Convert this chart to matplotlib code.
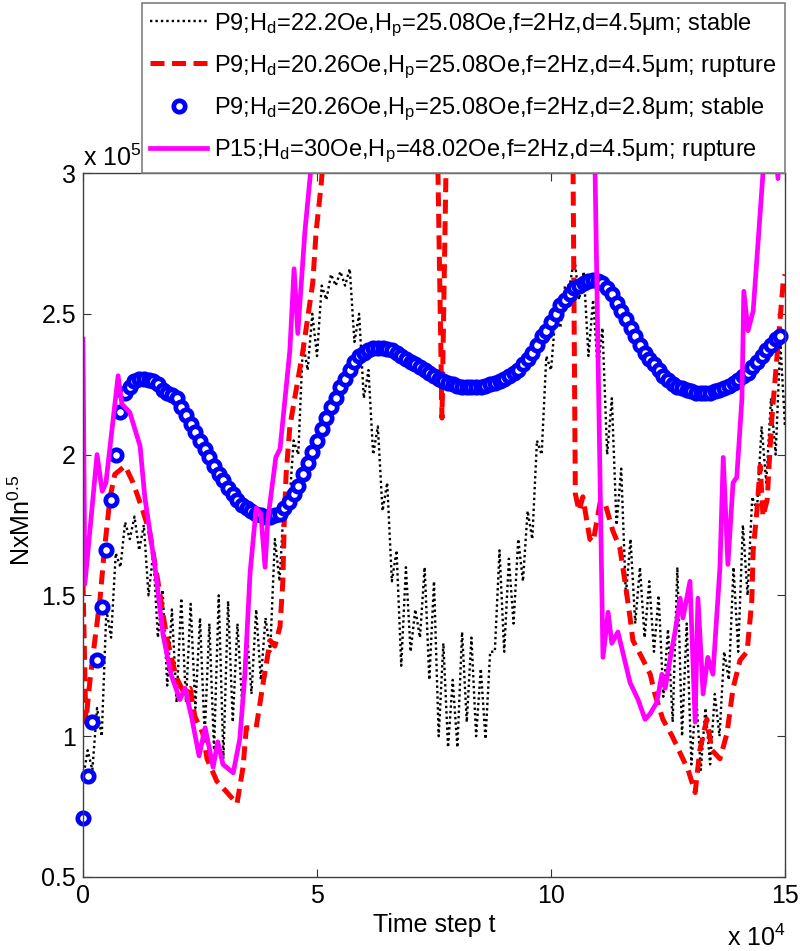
import numpy as np
import matplotlib
matplotlib.use("Agg")
import matplotlib.pyplot as plt
from matplotlib.ticker import FuncFormatter

plt.rcParams['font.family'] = ['Liberation Sans', 'DejaVu Sans']
plt.rcParams['mathtext.fontset'] = 'custom'
plt.rcParams['mathtext.rm'] = 'Liberation Sans'
plt.rcParams['mathtext.it'] = 'Liberation Sans:italic'

# ---- data (x in units of 1e4 time steps, y in units of 1e5) ----
black_x = [0.0, 0.2, 0.4, 0.6, 0.8, 1.0, 1.2, 1.4, 1.6, 1.8,
           2.0, 2.2, 2.4, 2.6, 2.8, 3.0, 3.2, 3.4, 3.6, 3.8,
           4.0, 4.2, 4.4, 4.6, 4.8, 5.0, 5.2, 5.4, 5.6, 5.8,
           6.0, 6.2, 6.4, 6.6, 6.8, 7.0, 7.2, 7.4, 7.6, 7.8,
           8.0, 8.2, 8.4, 8.6, 8.8, 9.0, 9.2, 9.4, 9.6, 9.8,
           10.0, 10.2, 10.4, 10.6, 10.8, 11.0, 11.2, 11.4, 11.6, 11.8,
           12.0, 12.2, 12.4, 12.6, 12.8, 13.0, 13.2, 13.4, 13.6, 13.8,
           14.0, 14.2, 14.4, 14.6, 14.8, 15.0]
black_lo = [0.85, 0.88, 1.0, 1.35, 1.6, 1.7, 1.66, 1.5, 1.35, 1.18,
            1.12, 1.12, 1.1, 1.0, 0.95, 0.92, 1.05, 1.12, 1.15, 1.2,
            1.3, 1.55, 1.8, 2.0, 2.3, 2.35, 2.55, 2.6, 2.6, 2.4,
            2.2, 2.0, 1.8, 1.55, 1.25, 1.3, 1.35, 1.2, 1.0, 0.96,
            0.96, 1.05, 1.0, 0.99, 1.3, 1.3, 1.4, 1.55, 1.7, 2.0,
            2.3, 2.45, 2.6, 2.55, 2.35, 2.3, 2.0, 1.75, 1.5, 1.4,
            1.35, 1.3, 1.14, 1.05, 1.0, 0.9, 0.88, 0.9, 1.0, 1.2,
            1.3, 1.5, 1.8, 1.9, 2.0, 2.1]
black_hi = [0.95, 1.1, 1.45, 1.65, 1.76, 1.78, 1.75, 1.65, 1.52, 1.45,
            1.49, 1.47, 1.42, 1.4, 1.5, 1.48, 1.4, 1.38, 1.45, 1.42,
            1.7, 1.85, 2.05, 2.4, 2.5, 2.6, 2.64, 2.65, 2.66, 2.5,
            2.3, 2.1, 1.9, 1.66, 1.6, 1.45, 1.6, 1.55, 1.33, 1.2,
            1.37, 1.35, 1.24, 1.3, 1.66, 1.63, 1.7, 1.8, 2.05, 2.35,
            2.5, 2.6, 2.7, 2.65, 2.55, 2.45, 2.2, 1.95, 1.7, 1.6,
            1.55, 1.5, 1.38, 1.6, 1.4, 1.15, 1.1, 1.15, 1.3, 1.6,
            1.75, 1.85, 2.1, 2.2, 2.4, 2.6]

red_x = [0.0, 0.06, 0.15, 0.26, 0.36, 0.45, 0.58, 0.68, 0.9, 1.07, 1.28, 1.43, 1.6,
         1.79, 1.99, 2.14, 2.29, 2.39, 2.56, 2.65, 2.86, 3.08, 3.29, 3.42, 3.49, 3.7,
         3.85, 4.0, 4.1, 4.21, 4.27, 4.30, 4.34, 4.42, 4.7, 4.91, 4.98, 5.09, 5.2, 6.0,
         7.0, 7.5, 7.58, 7.67, 7.76, 8.5, 10.0, 10.47, 10.52, 10.6, 10.68, 10.83, 10.9,
         11.05, 11.15, 11.32, 11.47, 11.58, 11.69, 11.75, 11.94, 12.12, 12.22, 12.39,
         12.59, 12.76, 12.93, 13.08, 13.18, 13.33, 13.44, 13.61, 13.76, 13.89, 14.04,
         14.19, 14.29, 14.32, 14.40, 14.47, 14.53, 14.62, 14.68, 14.72, 14.96, 15.0]
red_y = [1.55, 1.05, 1.2, 1.35, 1.48, 1.65, 1.85, 1.93, 1.96, 1.9, 1.8, 1.72, 1.55,
         1.35, 1.21, 1.16, 1.17, 1.07, 1.01, 0.92, 0.84, 0.8, 0.76, 0.89, 1.03, 1.03,
         1.19, 1.34, 1.32, 1.39, 1.55, 1.76, 1.93, 2.1, 2.37, 2.61, 2.79, 2.96, 3.2, 3.8,
         4.0, 3.6, 3.05, 2.13, 3.05, 3.8, 3.8, 3.05, 1.86, 1.8, 1.85, 1.7, 1.69,
         1.83, 1.83, 1.73, 1.67, 1.55, 1.42, 1.34, 1.28, 1.22, 1.15, 1.06,
         1.0, 0.94, 0.88, 0.8, 0.95, 1.06, 0.95, 0.92, 1.01, 1.17, 1.27,
         1.3, 1.48, 1.66, 1.8, 1.96, 1.78, 1.84, 2.02, 2.13, 2.61, 2.64]

blue_x = [i / 10 for i in range(150)]
blue_y = [0.71, 0.86, 1.05, 1.27, 1.46, 1.66, 1.84, 2.00, 2.15, 2.22,
          2.24, 2.26, 2.27, 2.27, 2.265, 2.26, 2.25, 2.23, 2.22, 2.21,
          2.20, 2.17, 2.14, 2.11, 2.08, 2.05, 2.02, 1.99, 1.96, 1.93,
          1.91, 1.88, 1.86, 1.84, 1.82, 1.81, 1.80, 1.79, 1.785, 1.78,
          1.78, 1.785, 1.79, 1.81, 1.83, 1.86, 1.89, 1.93, 1.97, 2.01,
          2.05, 2.09, 2.13, 2.17, 2.20, 2.24, 2.27, 2.30, 2.33, 2.35,
          2.36, 2.37, 2.38, 2.38, 2.38, 2.375, 2.37, 2.36, 2.35, 2.34,
          2.33, 2.32, 2.31, 2.30, 2.29, 2.28, 2.27, 2.26, 2.255, 2.25,
          2.245, 2.24, 2.24, 2.24, 2.24, 2.24, 2.245, 2.25, 2.255, 2.26,
          2.27, 2.28, 2.29, 2.30, 2.32, 2.34, 2.36, 2.39, 2.42, 2.44,
          2.47, 2.50, 2.53, 2.55, 2.57, 2.59, 2.60, 2.61, 2.615, 2.62,
          2.615, 2.61, 2.59, 2.57, 2.54, 2.51, 2.48, 2.45, 2.42, 2.39,
          2.36, 2.34, 2.32, 2.30, 2.28, 2.265, 2.25, 2.24, 2.235, 2.23,
          2.225, 2.22, 2.22, 2.22, 2.22, 2.225, 2.23, 2.235, 2.245, 2.255,
          2.265, 2.28, 2.29, 2.31, 2.33, 2.35, 2.37, 2.39, 2.41, 2.42]

mag_x = [0.0, 0.04, 0.30, 0.41, 0.49, 0.75, 0.83, 1.0, 1.22, 1.32, 1.54, 1.71, 1.88,
         2.07, 2.18, 2.33, 2.48, 2.61, 2.78, 2.88, 2.99, 3.21, 3.35, 3.46, 3.57, 3.70,
         3.80, 3.89, 3.95, 4.12, 4.21, 4.42, 4.51, 4.59, 4.74, 4.89, 5.2, 6.5, 8.0, 9.5,
         10.6, 10.94, 11.11, 11.22, 11.30, 11.43, 11.69, 11.86, 12.01, 12.12, 12.26,
         12.37, 12.44, 12.54, 12.65, 12.76, 12.82, 12.97, 13.08, 13.14, 13.25, 13.35,
         13.46, 13.61, 13.68, 13.78, 13.89, 13.97, 14.08, 14.12, 14.21, 14.32, 14.53,
         14.7, 14.85, 14.95]
mag_y = [2.41, 1.54, 2.0, 1.87, 1.9, 2.28, 2.18, 2.15, 2.03, 1.85, 1.6, 1.36, 1.22,
         1.13, 1.17, 1.06, 0.93, 1.03, 0.89, 0.98, 0.90, 0.87, 0.99, 1.22, 1.58, 1.81,
         1.79, 1.60, 1.77, 1.99, 2.02, 2.37, 2.66, 2.43, 2.79, 3.05, 3.5, 4.0, 4.2, 4.0,
         3.5, 3.02, 1.28, 1.44, 1.33, 1.37, 1.19, 1.13, 1.06, 1.08, 1.12,
         1.22, 1.17, 1.27, 1.37, 1.49, 1.42, 1.55, 1.05, 1.49, 1.15, 1.28,
         1.22, 1.60, 1.99, 1.61, 1.90, 1.92, 2.20, 2.58, 2.44, 2.51, 3.0,
         3.3, 2.98, 3.4]

labels = [
    r'P9;H$_\mathregular{d}$=22.2Oe,H$_\mathregular{p}$=25.08Oe,f=2Hz,d=4.5μm; stable',
    r'P9;H$_\mathregular{d}$=20.26Oe,H$_\mathregular{p}$=25.08Oe,f=2Hz,d=4.5μm; rupture',
    r'P9;H$_\mathregular{d}$=20.26Oe,H$_\mathregular{p}$=25.08Oe,f=2Hz,d=2.8μm; stable',
    r'P15;H$_\mathregular{d}$=30Oe,H$_\mathregular{p}$=48.02Oe,f=2Hz,d=4.5μm; rupture',
]
x_ticks = [0, 5, 10, 15]
y_ticks = [0.5, 1, 1.5, 2, 2.5, 3]

# ---- build zig-zag for the rapidly oscillating black series ----
bx, by = [], []
for i in range(len(black_x)):
    bx += [black_x[i] * 1e4, (black_x[i] + 0.1) * 1e4]
    by += [black_lo[i] * 1e5, black_hi[i] * 1e5]

W, H = 800, 951
fig = plt.figure(figsize=(W / 100, H / 100), dpi=100)
ax = fig.add_axes([83 / W, 1 - 877 / H, 702 / W, 704 / H])

FS = 17
TFS = 18
ax.plot(bx, by, linestyle=(0, (1, 1.3)), color='black', lw=1.7, label=labels[0])
ax.plot(np.array(red_x) * 1e4, np.array(red_y) * 1e5, linestyle=(0, (2.8, 1.5)),
        color='#ff0000', lw=3.6, label=labels[1])
ax.plot(np.array(blue_x) * 1e4, np.array(blue_y) * 1e5, linestyle='none', marker='o',
        ms=8.2, mew=3.4, mec='#0000ff', mfc='white', label=labels[2], clip_on=False)
ax.plot(np.array(mag_x) * 1e4, np.array(mag_y) * 1e5, linestyle='-', color='#ff00ff',
        lw=3.4, label=labels[3])

ax.set_xlim(0, 15e4)
ax.set_ylim(0.5e5, 3e5)
ax.set_xticks([v * 1e4 for v in x_ticks])
ax.set_yticks([v * 1e5 for v in y_ticks])
ax.xaxis.set_major_formatter(FuncFormatter(lambda v, p: f'{v/1e4:g}'))
ax.yaxis.set_major_formatter(FuncFormatter(lambda v, p: f'{v/1e5:g}'))
ax.tick_params(direction='in', length=6, width=0.8, top=True, right=True,
               labelsize=TFS, color='#333333')
ax.tick_params(axis='x', pad=5)
ax.tick_params(axis='y', pad=5)
for s in ax.spines.values():
    s.set_color('#404040')
    s.set_linewidth(1.0)

fig.text(83 / W, 1 - 166 / H, r'x 10$^\mathregular{5}$', fontsize=TFS, ha='left', va='baseline')
fig.text(786 / W, 1 - 946 / H, r'x 10$^\mathregular{4}$', fontsize=TFS, ha='right', va='baseline')
fig.text(434 / W, 1 - 925 / H, 'Time step t', fontsize=TFS, ha='center', va='center')
fig.text(22 / W, 1 - 520 / H, r'NxMn$^\mathregular{0.5}$', fontsize=TFS, ha='center',
         va='center', rotation=90)

leg = ax.legend(loc='lower right', bbox_to_anchor=(785 / W, 1 - 173 / H),
                bbox_transform=fig.transFigure, fontsize=FS, frameon=True,
                fancybox=False, framealpha=1, edgecolor='#7f7f7f',
                handlelength=2.4, handletextpad=0.3, labelspacing=0.62,
                borderpad=0.35, borderaxespad=0, numpoints=1)
leg.get_frame().set_linewidth(1.2)

fig.savefig('out.png', dpi=100)
